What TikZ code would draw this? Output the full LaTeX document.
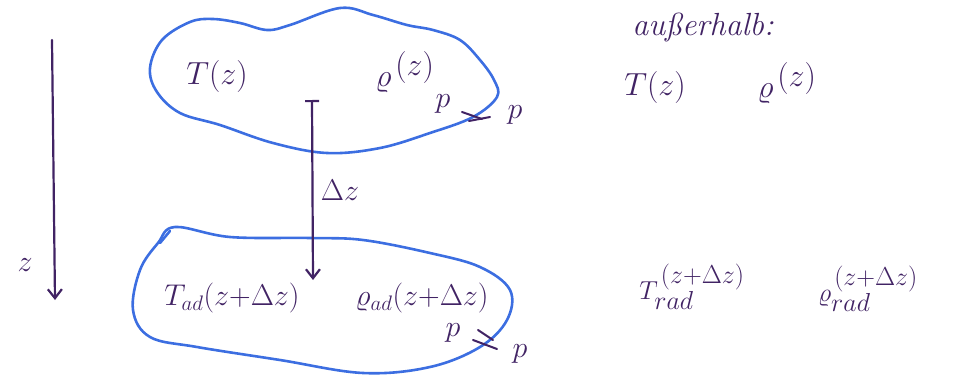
\RequirePackage{fix-cm}
\documentclass[tikz,border=0pt]{standalone}
\usetikzlibrary{arrows.meta}
\definecolor{ink}{RGB}{65,35,100}
\definecolor{blob}{RGB}{60,110,225}
\begin{document}
\begin{tikzpicture}[x=1pt,y=-1pt,
  blobline/.style={draw=blob,line width=2.6pt,line join=round},
  inkline/.style={draw=ink,line width=2.2pt,line cap=round},
  lbl/.style={text=ink,inner sep=0pt,font=\fontsize{32}{36}\selectfont},
  mlbl/.style={text=ink,inner sep=0pt,font=\fontsize{30}{34}\selectfont},
  rlbl/.style={text=ink,inner sep=0pt,font=\fontsize{26}{30}\selectfont},
  slbl/.style={text=ink,inner sep=0pt,font=\fontsize{30}{34}\selectfont}]
\useasboundingbox (0,0) rectangle (955,380);
% top blob
\draw[blobline] plot[smooth cycle,tension=0.6] coordinates{
 (162,40) (190,22) (213,19) (240,23) (267,30) (290,25) (340,8) (373,15)
 (407,25) (433,30) (460,40) (480,60) (494,80) (497,97) (473,117) (430,133)
 (380,148) (327,153) (273,143) (220,125) (180,113) (157,92) (150,68)};
% bottom blob
\draw[blobline] plot[smooth cycle,tension=0.6] coordinates{
 (175,227) (230,237) (310,238) (363,240) (430,253) (480,267) (510,290)
 (507,320) (480,347) (430,367) (363,373) (280,360) (197,347) (150,337)
 (133,310) (140,270) (158,243)};
\draw[blobline,line cap=round] (160,243) -- (170,231);
% z axis
\coordinate (za) at (52,40);
\coordinate (zb) at (55,300);
\draw[inkline,-{Straight Barb[length=9pt,width=14pt]}] (za) -- (zb);
\node[slbl] (zlab) at (25,265) {$z$};
% delta z arrow
\coordinate (da) at (312,100);
\coordinate (db) at (313,280);
\draw[inkline,{Bar[width=14pt]}-{Straight Barb[length=9pt,width=14pt]}] (da) -- (db);
\node[mlbl] (dz) at (340,190) {$\Delta z$};
% top blob labels
\node[lbl] (Tz) at (217,76) {$T(z)$};
\node[lbl] (rz) at (405,72) {$\varrho^{\,\textstyle(z)}$};
\node[slbl] (p1) at (443,104) {$p$};
\node[slbl] (p2) at (515,115) {$p$};
\draw[inkline,line width=2pt] (462,112) -- (482,119);
\draw[inkline,line width=2pt] (469,121) -- (490,117);
% bottom blob labels
\node[mlbl] (Tad) at (232,298) {$T_{ad}(z{+}\Delta z)$};
\node[mlbl] (rad) at (422,298) {$\varrho_{ad}(z{+}\Delta z)$};
\node[slbl] (p3) at (453,333) {$p$};
\node[slbl] (p4) at (520,354) {$p$};
\draw[inkline,line width=2pt] (478,330) -- (493,340);
\draw[inkline,line width=2pt] (473,340) -- (497,349);
% right side
\node[lbl] (aus) at (703,27) {\itshape außerhalb:};
\node[lbl] (Tzr) at (655,87) {$T(z)$};
\node[lbl] (rzr) at (787,83) {$\varrho^{\,\textstyle(z)}$};
\node[rlbl] (Trad) at (692,287) {$T_{\textstyle rad}^{\,\textstyle(z{+}\Delta z)}$};
\node[rlbl] (rrad) at (868,289) {$\varrho_{\textstyle rad}^{\,\textstyle(z{+}\Delta z)}$};
\end{tikzpicture}
\end{document}
